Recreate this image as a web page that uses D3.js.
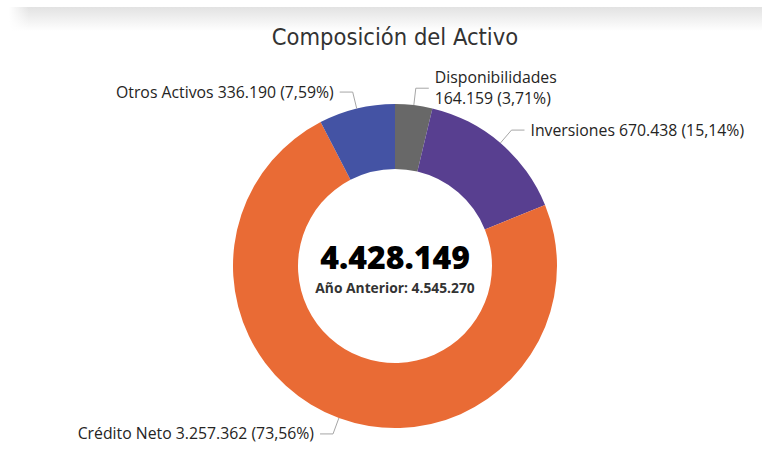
<!DOCTYPE html>
<html lang="es">
<head>
<meta charset="utf-8">
<title>Composición del Activo</title>
<script src="https://cdn.jsdelivr.net/npm/d3@7"></script>
<style>
  body { margin: 0; background: #fff; }
  .lbl { font-family: "Open Sans", "Noto Sans", sans-serif; font-size: 15.8px; fill: #252423; }
</style>
</head>
<body>
<div id="chart"></div>
<script>
// data
var categories = ["Disponibilidades", "Inversiones", "Crédito Neto", "Otros Activos"];
var values = [164159, 670438, 3257362, 336190];
var valueLabels = ["164.159", "670.438", "3.257.362", "336.190"];
var pctLabels = ["3,71%", "15,14%", "73,56%", "7,59%"];
var colors = ["#686868", "#583f90", "#e96b35", "#4453a4"];
var totalLabel = "4.428.149";
var prevYearLabel = "Año Anterior: 4.545.270";

var width = 762, height = 449;
var cx = 395, cy = 266;
var outerR = 162, innerR = 97;

var svg = d3.select("#chart").append("svg")
    .attr("width", width)
    .attr("height", height);

// header shadow band
var defs = svg.append("defs");
var grad = defs.append("linearGradient").attr("id", "shade")
    .attr("x1", 0).attr("y1", 0).attr("x2", 0).attr("y2", 1);
grad.append("stop").attr("offset", "0%").attr("stop-color", "#e2e2e2");
grad.append("stop").attr("offset", "100%").attr("stop-color", "#ffffff");
var fade = defs.append("linearGradient").attr("id", "fadeL")
    .attr("x1", 0).attr("y1", 0).attr("x2", 1).attr("y2", 0);
fade.append("stop").attr("offset", "0%").attr("stop-color", "#fff").attr("stop-opacity", 1);
fade.append("stop").attr("offset", "100%").attr("stop-color", "#fff").attr("stop-opacity", 0);
svg.append("rect").attr("x", 9).attr("y", 7).attr("width", width - 9).attr("height", 24)
    .attr("fill", "url(#shade)");
svg.append("rect").attr("x", 9).attr("y", 7).attr("width", 20).attr("height", 24)
    .attr("fill", "url(#fadeL)");

// title
svg.append("text")
    .attr("x", cx).attr("y", 45)
    .attr("text-anchor", "middle")
    .style("font-family", "'DejaVu Sans Condensed', 'DejaVu Sans', sans-serif")
    .style("font-stretch", "condensed")
    .style("font-size", "23.5px")
    .style("fill", "#333")
    .text("Composición del Activo");

var data = categories.map(function(c, i) {
  return { name: c, value: values[i], vlabel: valueLabels[i], pct: pctLabels[i], color: colors[i] };
});

var pie = d3.pie().sort(null).value(function(d) { return d.value; });
var arc = d3.arc().innerRadius(innerR).outerRadius(outerR);
var arcs = pie(data);

var g = svg.append("g").attr("transform", "translate(" + cx + "," + cy + ")");

g.selectAll("path.slice")
  .data(arcs)
  .enter().append("path")
    .attr("class", "slice")
    .attr("d", arc)
    .attr("fill", function(d) { return d.data.color; });

// leader lines + labels
var elbowR = 179, hLen = 13, gap = 6;
arcs.forEach(function(d) {
  var a = (d.startAngle + d.endAngle) / 2;
  var p0 = [Math.sin(a) * outerR, -Math.cos(a) * outerR];
  var p1 = [Math.sin(a) * elbowR, -Math.cos(a) * elbowR];
  var side = Math.sin(a) >= 0 ? 1 : -1;
  var p2 = [p1[0] + side * hLen, p1[1]];
  g.append("polyline")
    .attr("points", [p0, p1, p2].map(function(p) { return p.join(","); }).join(" "))
    .attr("fill", "none")
    .attr("stroke", "#a6a6a6")
    .attr("stroke-width", 1);

  var tx = p2[0] + side * gap;
  var anchor = side > 0 ? "start" : "end";
  if (d.data.name === "Disponibilidades") {
    var t = g.append("text").attr("class", "lbl").attr("text-anchor", anchor);
    t.append("tspan").attr("x", tx).attr("y", p1[1] - 5).text(d.data.name);
    t.append("tspan").attr("x", tx).attr("y", p1[1] + 16).text(d.data.vlabel + " (" + d.data.pct + ")");
  } else {
    g.append("text").attr("class", "lbl")
      .attr("x", tx).attr("y", p1[1])
      .attr("dy", "0.35em")
      .attr("text-anchor", anchor)
      .text(d.data.name + " " + d.data.vlabel + " (" + d.data.pct + ")");
  }
});

// center text
g.append("text")
  .attr("x", 0).attr("y", 3)
  .attr("text-anchor", "middle")
  .style("font-family", "'Open Sans', 'DejaVu Sans', sans-serif")
  .style("font-weight", "800")
  .style("font-size", "32px")
  .style("fill", "#000")
  .text(totalLabel);
g.append("text")
  .attr("x", 0).attr("y", 27)
  .attr("text-anchor", "middle")
  .style("font-family", "'Open Sans', 'DejaVu Sans', sans-serif")
  .style("font-weight", "bold")
  .style("font-size", "13.8px")
  .style("fill", "#333")
  .text(prevYearLabel);
</script>
</body>
</html>
